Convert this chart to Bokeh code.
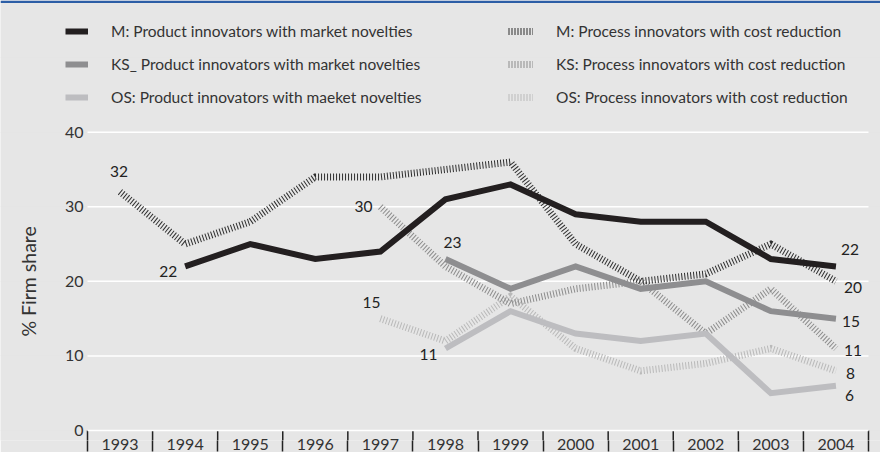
import math
from bokeh.plotting import figure
from bokeh.models import (Range1d, FixedTicker, Legend, LegendItem,
                          ColumnDataSource, BoxAnnotation)
from bokeh.core.properties import value
from bokeh.embed import file_html
from bokeh.resources import INLINE

# ---------------- data ----------------
years = [1993, 1994, 1995, 1996, 1997, 1998, 1999, 2000, 2001, 2002, 2003, 2004]

m_prod_years = years[1:]
m_prod = [22, 25, 23, 24, 31, 33, 29, 28, 28, 23, 22]

m_proc_years = years
m_proc = [32, 25, 28, 34, 34, 35, 36, 25, 20, 21, 25, 20]

ks_prod_years = years[5:]
ks_prod = [23, 19, 22, 19, 20, 16, 15]

ks_proc_years = years[4:]
ks_proc = [30, 22, 17, 19, 20, 13, 19, 11]

os_prod_years = years[5:]
os_prod = [11, 16, 13, 12, 13, 5, 6]

os_proc_years = years[4:]
os_proc = [15, 12, 18, 11, 8, 9, 11, 8]

y_ticks = [0, 10, 20, 30, 40]

labels_left = ["M: Product innovators with market novelties",
               "KS_ Product innovators with market novelties",
               "OS: Product innovators with maeket novelties"]
labels_right = ["M: Process innovators with cost reduction",
                "KS: Process innovators with cost reduction",
                "OS: Process innovators with cost reduction"]
y_axis_title = "% Firm share"

# ---------------- layout / style ----------------
FONT = "Lato"
BG = "#e6e6e6"
TXT = "#333333"
W, H = 880, 452
PLOT_L, PLOT_R = 87, 868          # page x of first / last category boundary
Y0, Y40 = 431, 132                # page y of the 0 and 40 gridlines
BOTTOM_BORDER = 11
FRAME_B = H - BOTTOM_BORDER       # frame bottom (page y)
PX_PER_YEAR = (PLOT_R - PLOT_L) / len(years)
X_START = years[0] - 0.5 - PLOT_L / PX_PER_YEAR
X_END = years[-1] + 0.5 + (W - PLOT_R) / PX_PER_YEAR
PX_PER_UNIT = (Y0 - Y40) / 40.0
Y_MIN = -(FRAME_B - Y0) / PX_PER_UNIT
Y_TOP = Y0 / PX_PER_UNIT

p = figure(width=W, height=H,
           min_border_left=0, min_border_right=0,
           min_border_top=0, min_border_bottom=BOTTOM_BORDER,
           x_range=Range1d(X_START, X_END), y_range=Range1d(Y_MIN, Y_TOP),
           y_axis_location=None,
           output_backend="svg", toolbar_location=None)
p.background_fill_color = BG
p.border_fill_color = BG
p.outline_line_color = None
p.xgrid.visible = False

bounds = [y - 0.5 for y in years] + [years[-1] + 0.5]

# x axis: year labels at centres, separators at boundaries
xa = p.xaxis[0]
xa.ticker = FixedTicker(ticks=years, minor_ticks=bounds)
xa.axis_line_color = None
xa.major_tick_line_color = None
xa.major_tick_out = 0
xa.major_tick_in = 0
xa.minor_tick_in = 0
xa.minor_tick_out = BOTTOM_BORDER
xa.minor_tick_line_color = "#222222"
xa.minor_tick_line_width = 1.5
xa.major_label_standoff = -13
xa.major_label_text_font = FONT
xa.major_label_text_font_size = "16px"
xa.major_label_text_color = TXT

# upper part of the category separators (between the 0 line and the axis)
p.segment(x0=bounds, x1=bounds, y0=[Y_MIN] * len(bounds), y1=[0] * len(bounds),
          line_color="#222222", line_width=1.5)

# top blue rule
p.add_layout(BoxAnnotation(top=Y_TOP, bottom=Y_TOP - 2.5 / PX_PER_UNIT,
                           fill_color="#2c5ea6", fill_alpha=1, line_color=None))

# horizontal gridlines over the category span
n = len(y_ticks)
p.segment(x0=[bounds[0]] * n, x1=[bounds[-1]] * n, y0=y_ticks, y1=y_ticks,
          line_color="white", line_width=1.5)

# y tick labels
p.text(x=[bounds[0]] * n, y=y_ticks, text=[str(t) for t in y_ticks],
       x_offset=-4, text_align="right", text_baseline="middle",
       text_font=value(FONT), text_font_size="16px", text_color=TXT)

# y axis title
p.text(x=[X_START + 28 / PX_PER_YEAR], y=[20], text=[y_axis_title],
       angle=math.pi / 2, text_align="center", text_baseline="middle",
       text_font=value(FONT), text_font_size="19.5px", text_color=TXT)

# ---------------- lines ----------------
HATCH_W = 7
r_os_proc = p.line(os_proc_years, os_proc, line_color="#b9b9b9", line_width=HATCH_W,
                   line_dash="1 2", line_join="miter")
r_ks_proc = p.line(ks_proc_years, ks_proc, line_color="#8c8c8c", line_width=HATCH_W,
                   line_dash="1 2", line_join="miter")
r_os_prod = p.line(os_prod_years, os_prod, line_color="#bdbdc0", line_width=6,
                   line_join="miter")
r_ks_prod = p.line(ks_prod_years, ks_prod, line_color="#8e8e90", line_width=6,
                   line_join="miter")
r_m_proc = p.line(m_proc_years, m_proc, line_color="#2e2e2e", line_width=HATCH_W,
                  line_dash="1 2", line_join="miter")
r_m_prod = p.line(m_prod_years, m_prod, line_color="#231f20", line_width=6,
                  line_join="miter")

# ---------------- value labels ----------------
series = {
    "m_prod": (m_prod_years, m_prod),
    "m_proc": (m_proc_years, m_proc),
    "ks_prod": (ks_prod_years, ks_prod),
    "ks_proc": (ks_proc_years, ks_proc),
    "os_prod": (os_prod_years, os_prod),
    "os_proc": (os_proc_years, os_proc),
}
# (series, index, dx, dy, align)
label_spec = [
    ("m_proc", 0, -1, -20, "center"),
    ("m_prod", 0, -8, 5, "right"),
    ("ks_proc", 0, -8, 0, "right"),
    ("os_proc", 0, 0, -16, "right"),
    ("ks_prod", 0, -2, -16, "left"),
    ("os_prod", 0, -8, 6, "right"),
    ("m_prod", -1, 5, -17, "left"),
    ("m_proc", -1, 8, 6, "left"),
    ("ks_prod", -1, 6, 3, "left"),
    ("ks_proc", -1, 8, 2, "left"),
    ("os_proc", -1, 10, 3, "left"),
    ("os_prod", -1, 9, 10, "left"),
]
for align in ("left", "center", "right"):
    d = dict(x=[], y=[], t=[], xo=[], yo=[])
    for name, idx, dx, dy, al in label_spec:
        if al != align:
            continue
        xs, ys = series[name]
        d["x"].append(xs[idx]); d["y"].append(ys[idx]); d["t"].append(str(ys[idx]))
        d["xo"].append(dx); d["yo"].append(dy)
    if d["x"]:
        p.text(x="x", y="y", text="t", x_offset="xo", y_offset="yo",
               source=ColumnDataSource(d), text_font=value(FONT),
               text_font_size="15.5px", text_color="#222222",
               text_align=align, text_baseline="middle")

# ---------------- legends ----------------
def make_legend(items, loc, gw):
    return Legend(items=items, location=loc, orientation="vertical",
                  glyph_width=gw, glyph_height=20, label_standoff=23,
                  label_height=20, spacing=13, padding=0, margin=0,
                  background_fill_alpha=0, border_line_color=None,
                  label_text_font=FONT, label_text_font_size="15.5px",
                  label_text_color=TXT)

leg_y = FRAME_B - 108
leg1 = make_legend([LegendItem(label=labels_left[0], renderers=[r_m_prod]),
                    LegendItem(label=labels_left[1], renderers=[r_ks_prod]),
                    LegendItem(label=labels_left[2], renderers=[r_os_prod])],
                   (65, leg_y), 23)
leg2 = make_legend([LegendItem(label=labels_right[0], renderers=[r_m_proc]),
                    LegendItem(label=labels_right[1], renderers=[r_ks_proc]),
                    LegendItem(label=labels_right[2], renderers=[r_os_proc])],
                   (508, leg_y), 25)
p.add_layout(leg1)
p.add_layout(leg2)

open("out.html", "w").write(file_html(p, INLINE))
